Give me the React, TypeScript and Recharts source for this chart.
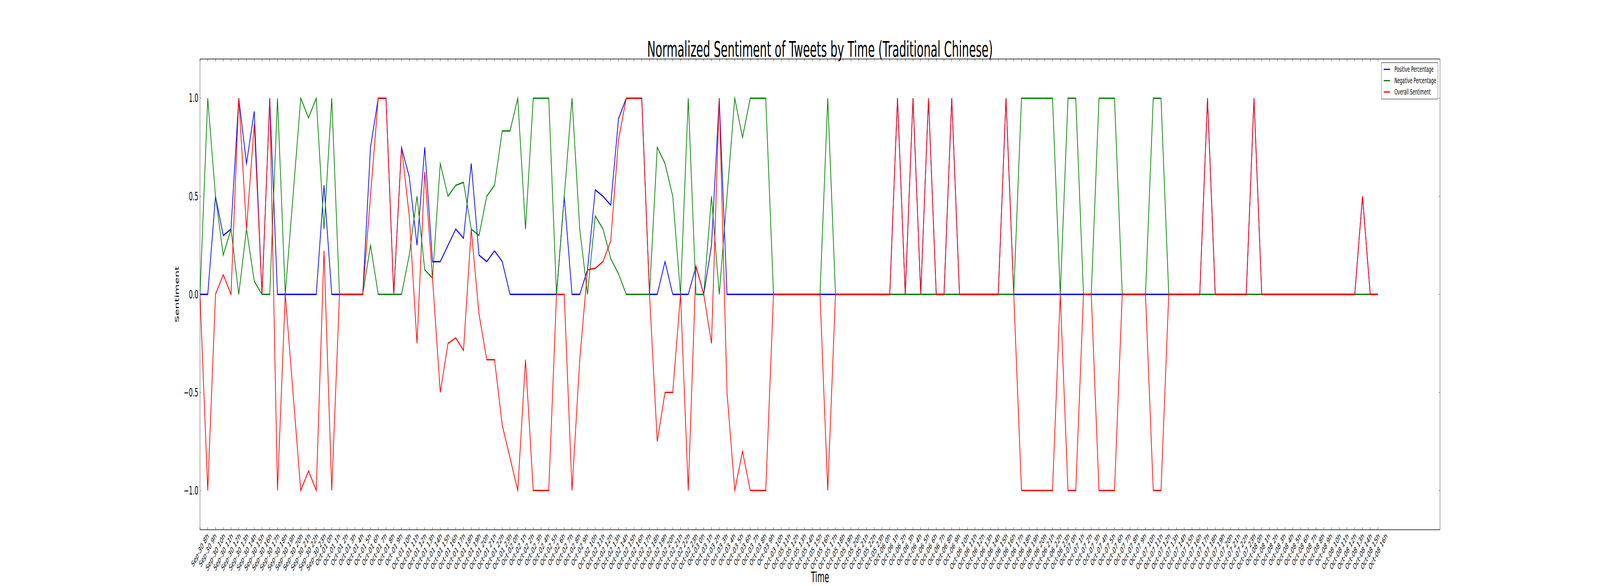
import React from 'react';
import { LineChart, Line, XAxis, YAxis, ReferenceLine, Legend } from 'recharts';

const TIME_LABELS = [
  'Sep-30 8h', 'Sep-30 9h', 'Sep-30 10h', 'Sep-30 11h', 'Sep-30 12h', 'Sep-30 13h', 'Sep-30 14h', 'Sep-30 15h',
  'Sep-30 16h', 'Sep-30 17h', 'Sep-30 18h', 'Sep-30 19h', 'Sep-30 20h', 'Sep-30 21h', 'Sep-30 22h', 'Sep-30 23h',
  'Oct-01 0h', 'Oct-01 1h', 'Oct-01 2h', 'Oct-01 3h', 'Oct-01 4h', 'Oct-01 5h', 'Oct-01 6h', 'Oct-01 7h',
  'Oct-01 8h', 'Oct-01 9h', 'Oct-01 10h', 'Oct-01 11h', 'Oct-01 12h', 'Oct-01 13h', 'Oct-01 14h', 'Oct-01 15h',
  'Oct-01 16h', 'Oct-01 17h', 'Oct-01 18h', 'Oct-01 19h', 'Oct-01 20h', 'Oct-01 21h', 'Oct-01 22h', 'Oct-01 23h',
  'Oct-02 0h', 'Oct-02 1h', 'Oct-02 2h', 'Oct-02 3h', 'Oct-02 4h', 'Oct-02 5h', 'Oct-02 6h', 'Oct-02 7h',
  'Oct-02 8h', 'Oct-02 9h', 'Oct-02 10h', 'Oct-02 11h', 'Oct-02 12h', 'Oct-02 13h', 'Oct-02 14h', 'Oct-02 15h',
  'Oct-02 16h', 'Oct-02 17h', 'Oct-02 18h', 'Oct-02 19h', 'Oct-02 20h', 'Oct-02 21h', 'Oct-02 22h', 'Oct-02 23h',
  'Oct-03 0h', 'Oct-03 1h', 'Oct-03 2h', 'Oct-03 3h', 'Oct-03 4h', 'Oct-03 5h', 'Oct-03 6h', 'Oct-03 7h',
  'Oct-03 8h', 'Oct-03 9h', 'Oct-03 10h',
  'Oct-05 11h', 'Oct-05 12h', 'Oct-05 13h', 'Oct-05 14h', 'Oct-05 15h', 'Oct-05 16h', 'Oct-05 17h', 'Oct-05 18h',
  'Oct-05 19h', 'Oct-05 20h', 'Oct-05 21h', 'Oct-05 22h', 'Oct-05 23h',
  'Oct-06 0h', 'Oct-06 1h', 'Oct-06 2h', 'Oct-06 3h', 'Oct-06 4h', 'Oct-06 5h', 'Oct-06 6h', 'Oct-06 7h',
  'Oct-06 8h', 'Oct-06 9h', 'Oct-06 10h', 'Oct-06 11h', 'Oct-06 12h', 'Oct-06 13h', 'Oct-06 14h', 'Oct-06 15h',
  'Oct-06 16h', 'Oct-06 17h', 'Oct-06 18h', 'Oct-06 19h', 'Oct-06 20h', 'Oct-06 21h', 'Oct-06 22h', 'Oct-06 23h',
  'Oct-07 0h', 'Oct-07 1h', 'Oct-07 2h', 'Oct-07 3h', 'Oct-07 4h', 'Oct-07 5h', 'Oct-07 6h', 'Oct-07 7h',
  'Oct-07 8h', 'Oct-07 9h', 'Oct-07 10h', 'Oct-07 11h', 'Oct-07 12h', 'Oct-07 13h', 'Oct-07 14h', 'Oct-07 15h',
  'Oct-07 16h', 'Oct-07 17h', 'Oct-07 18h', 'Oct-07 19h', 'Oct-07 20h', 'Oct-07 21h', 'Oct-07 22h', 'Oct-07 23h',
  'Oct-08 0h', 'Oct-08 1h', 'Oct-08 2h', 'Oct-08 3h', 'Oct-08 4h', 'Oct-08 5h', 'Oct-08 6h', 'Oct-08 7h',
  'Oct-08 8h', 'Oct-08 9h', 'Oct-08 10h', 'Oct-08 11h', 'Oct-08 12h', 'Oct-08 13h', 'Oct-08 14h', 'Oct-08 15h',
  'Oct-08 16h',
];

const POSITIVE = [
  0, 0, 0.5, 0.3, 0.333, 1, 0.667, 0.933, 0, 1,
  0, 0, 0, 0, 0, 0, 0.556, 0, 0, 0,
  0, 0, 0.75, 1, 1, 0, 0.75, 0.6, 0.25, 0.75,
  0.167, 0.167, 0.25, 0.333, 0.286, 0.667, 0.2, 0.167, 0.222, 0.167,
  0, 0, 0, 0, 0, 0, 0, 0.5, 0, 0,
  0.125, 0.533, 0.5, 0.455, 0.895, 1, 1, 1, 0, 0,
  0.167, 0, 0, 0, 0.143, 0, 0.25, 1, 0, 0,
  0, 0, 0, 0, 0, 0, 0, 0, 0, 0,
  0, 0, 0, 0, 0, 0, 0, 0, 0, 0,
  1, 0, 1, 0, 1, 0, 0, 1, 0, 0,
  0, 0, 0, 0, 1, 0, 0, 0, 0, 0,
  0, 0, 0, 0, 0, 0, 0, 0, 0, 0,
  0, 0, 0, 0, 0, 0, 0, 0, 0, 0,
  1, 0, 0, 0, 0, 0, 1, 0, 0, 0,
  0, 0, 0, 0, 0, 0, 0, 0, 0, 0,
  0.5, 0, 0,
];

const NEGATIVE = [
  0, 1, 0.5, 0.2, 0.333, 0, 0.333, 0.067, 0, 0,
  1, 0, 0.5, 1, 0.9, 1, 0.333, 1, 0, 0,
  0, 0, 0.25, 0, 0, 0, 0, 0.2, 0.5, 0.125,
  0.083, 0.667, 0.5, 0.556, 0.571, 0.333, 0.3, 0.5, 0.556, 0.833,
  0.833, 1, 0.333, 1, 1, 1, 0, 0.5, 1, 0.333,
  0, 0.4, 0.333, 0.182, 0.105, 0, 0, 0, 0, 0.75,
  0.667, 0.5, 0, 1, 0, 0, 0.5, 0, 0.5, 1,
  0.8, 1, 1, 1, 0, 0, 0, 0, 0, 0,
  0, 1, 0, 0, 0, 0, 0, 0, 0, 0,
  0, 0, 0, 0, 0, 0, 0, 0, 0, 0,
  0, 0, 0, 0, 0, 0, 1, 1, 1, 1,
  1, 0, 1, 1, 0, 0, 1, 1, 1, 0,
  0, 0, 0, 1, 1, 0, 0, 0, 0, 0,
  0, 0, 0, 0, 0, 0, 0, 0, 0, 0,
  0, 0, 0, 0, 0, 0, 0, 0, 0, 0,
  0, 0, 0,
];

const OVERALL = [
  0, -1, 0, 0.1, 0, 1, 0.333, 0.867, 0, 1,
  -1, 0, -0.5, -1, -0.9, -1, 0.222, -1, 0, 0,
  0, 0, 0.5, 1, 1, 0, 0.75, 0.4, -0.25, 0.625,
  0.083, -0.5, -0.25, -0.222, -0.286, 0.333, -0.1, -0.333, -0.333, -0.667,
  -0.833, -1, -0.333, -1, -1, -1, 0, 0, -1, -0.333,
  0.125, 0.133, 0.167, 0.273, 0.789, 1, 1, 1, 0, -0.75,
  -0.5, -0.5, 0, -1, 0.143, 0, -0.25, 1, -0.5, -1,
  -0.8, -1, -1, -1, 0, 0, 0, 0, 0, 0,
  0, -1, 0, 0, 0, 0, 0, 0, 0, 0,
  1, 0, 1, 0, 1, 0, 0, 1, 0, 0,
  0, 0, 0, 0, 1, 0, -1, -1, -1, -1,
  -1, 0, -1, -1, 0, 0, -1, -1, -1, 0,
  0, 0, 0, -1, -1, 0, 0, 0, 0, 0,
  1, 0, 0, 0, 0, 0, 1, 0, 0, 0,
  0, 0, 0, 0, 0, 0, 0, 0, 0, 0,
  0.5, 0, 0,
];

const Y_TICKS = [-1, -0.5, 0, 0.5, 1];
const X_DOMAIN_MAX = 160;
const Y_DOMAIN = [-1.2, 1.2];

const SERIES = [
  { key: 'positive', name: 'Positive Percentage', color: '#0000ff' },
  { key: 'negative', name: 'Negative Percentage', color: '#008000' },
  { key: 'overall', name: 'Overall Sentiment', color: '#ff0000' },
];

const TITLE = 'Normalized Sentiment of Tweets by Time (Traditional Chinese)';
const X_LABEL = 'Time';
const Y_LABEL = 'Sentiment';

const FONT = '"DejaVu Sans", Verdana, sans-serif';

// layout constants (in reference pixels)
const W = 8000;
const H = 1500;
const PLOT_LEFT = 1000;
const PLOT_RIGHT = 7200;
const PLOT_TOP = 151;
const PLOT_BOTTOM = 1356;
const TICK_LEN = 6;
const XTICK_FONT = 22;
const YTICK_FONT = 30;
const YLABEL_FONT = 28;
const XLABEL_FONT = 37;
const LINE_W = 3.5;

const CHAR_W: Record<string, number> = {
  S: 0.635, e: 0.615, p: 0.635, '-': 0.361, ' ': 0.318, h: 0.634, O: 0.787, c: 0.55, t: 0.392,
};
const textWidth = (s: string, size: number) =>
  s.split('').reduce((acc, ch) => acc + (CHAR_W[ch] ?? 0.636), 0) * size;

const data = TIME_LABELS.map((t, i) => ({
  idx: i,
  time: t,
  positive: POSITIVE[i],
  negative: NEGATIVE[i],
  overall: OVERALL[i],
}));

const X_TICKS = TIME_LABELS.map((_, i) => i);

const XTick = (props: any) => {
  const { x, payload } = props;
  const label = TIME_LABELS[payload.value] ?? '';
  const w = textWidth(label, XTICK_FONT);
  const h = XTICK_FONT * 0.95;
  const cy = PLOT_BOTTOM + 5 + (w + h) / (2 * Math.SQRT2);
  return (
    <g>
      <line x1={x} y1={PLOT_BOTTOM} x2={x} y2={PLOT_BOTTOM - TICK_LEN} stroke="#000" strokeWidth={1} />
      <line x1={x} y1={PLOT_TOP} x2={x} y2={PLOT_TOP + TICK_LEN} stroke="#000" strokeWidth={1} />
      <text
        x={x}
        y={cy}
        textAnchor="middle"
        dominantBaseline="central"
        transform={`rotate(-45, ${x}, ${cy})`}
        fontSize={XTICK_FONT}
        fontFamily={FONT}
        fill="#000"
      >
        {label}
      </text>
    </g>
  );
};

const YTick = (props: any) => {
  const { y, payload } = props;
  const v = Number(payload.value);
  const txt = (v < 0 ? '\u2212' : '') + Math.abs(v).toFixed(1);
  return (
    <g>
      <line x1={PLOT_LEFT} y1={y} x2={PLOT_LEFT + TICK_LEN} y2={y} stroke="#000" strokeWidth={1} />
      <line x1={PLOT_RIGHT} y1={y} x2={PLOT_RIGHT - TICK_LEN} y2={y} stroke="#000" strokeWidth={1} />
      <text
        x={PLOT_LEFT - 8}
        y={y}
        textAnchor="end"
        dominantBaseline="central"
        fontSize={YTICK_FONT}
        fontFamily={FONT}
        fill="#000"
      >
        {txt}
      </text>
    </g>
  );
};

const LegendBox = () => (
  <div
    style={{
      width: 283,
      height: 94,
      boxSizing: 'border-box',
      border: '1.2px solid #000',
      background: '#fff',
      paddingTop: 2,
      fontFamily: FONT,
    }}
  >
    {SERIES.map((s) => (
      <div key={s.key} style={{ height: 29, display: 'flex', alignItems: 'center' }}>
        <div style={{ marginLeft: 11, width: 31, height: 3, background: s.color }} />
        <span style={{ marginLeft: 22, fontSize: 20, color: '#000', whiteSpace: 'nowrap', lineHeight: '29px' }}>
          {s.name}
        </span>
      </div>
    ))}
  </div>
);

// Fit the fixed 8000x1500 drawing to the actual window (identity in a true 8000x1500 window).
const fitAxis = (avail: number, want: number) => {
  const s = avail / want;
  return Number.isFinite(s) && s > 0 && s < 1 ? s : 1;
};

export default function App() {
  const hasWin = typeof window !== 'undefined';
  const sx = hasWin ? fitAxis(window.innerWidth, W) : 1;
  const sy = hasWin ? fitAxis(window.innerHeight, H) : 1;
  return (
    <div
      style={{
        position: 'absolute',
        left: 0,
        top: 0,
        width: W * sx,
        height: H * sy,
        overflow: 'hidden',
        background: '#fff',
      }}
    >
      <div
        style={{
          position: 'absolute',
          left: 0,
          top: 0,
          width: W,
          height: H,
          transform: `scale(${sx}, ${sy})`,
          transformOrigin: '0 0',
          background: '#fff',
        }}
      >
        <LineChart
          width={W}
          height={H}
          data={data}
          margin={{ top: PLOT_TOP, right: W - PLOT_RIGHT, bottom: H - PLOT_BOTTOM - 100, left: PLOT_LEFT - 100 }}
        >
          <XAxis
            dataKey="idx"
            type="number"
            domain={[0, X_DOMAIN_MAX]}
            allowDataOverflow
            ticks={X_TICKS}
            interval={0}
            height={100}
            tickSize={0}
            tickMargin={0}
            tickLine={false}
            axisLine={{ stroke: '#000', strokeWidth: 1.3 }}
            tick={XTick}
          />
          <YAxis
            type="number"
            domain={Y_DOMAIN}
            allowDataOverflow
            ticks={Y_TICKS}
            interval={0}
            width={100}
            tickSize={0}
            tickMargin={0}
            tickLine={false}
            axisLine={{ stroke: '#000', strokeWidth: 1.3 }}
            tick={YTick}
          />
          <ReferenceLine y={Y_DOMAIN[1]} stroke="#000" strokeWidth={1.3} />
          <ReferenceLine x={X_DOMAIN_MAX} stroke="#000" strokeWidth={1.3} />
          {SERIES.map((sr) => (
            <Line
              key={sr.key}
              type="linear"
              dataKey={sr.key}
              name={sr.name}
              stroke={sr.color}
              strokeWidth={LINE_W}
              dot={false}
              activeDot={false}
              isAnimationActive={false}
            />
          ))}
          <Legend
            layout="vertical"
            align="center"
            verticalAlign="middle"
            wrapperStyle={{ left: 6907, top: 160, width: 283, height: 94 }}
            content={() => <LegendBox />}
          />
        </LineChart>
        <svg
          width={W}
          height={H}
          style={{ position: 'absolute', left: 0, top: 0, pointerEvents: 'none' }}
        >
          <text x={(PLOT_LEFT + PLOT_RIGHT) / 2} y={145} textAnchor="middle" fontSize={55.6} fontFamily={FONT} fill="#000">
            {TITLE}
          </text>
          <text x={(PLOT_LEFT + PLOT_RIGHT) / 2} y={1490} textAnchor="middle" fontSize={XLABEL_FONT} fontFamily={FONT} fill="#000">
            {X_LABEL}
          </text>
          <text
            x={884}
            y={(PLOT_TOP + PLOT_BOTTOM) / 2}
            textAnchor="middle"
            dominantBaseline="central"
            transform={`rotate(-90, 884, ${(PLOT_TOP + PLOT_BOTTOM) / 2})`}
            fontSize={YLABEL_FONT}
            fontFamily={FONT}
            fill="#000"
          >
            {Y_LABEL}
          </text>
        </svg>
      </div>
    </div>
  );
}
